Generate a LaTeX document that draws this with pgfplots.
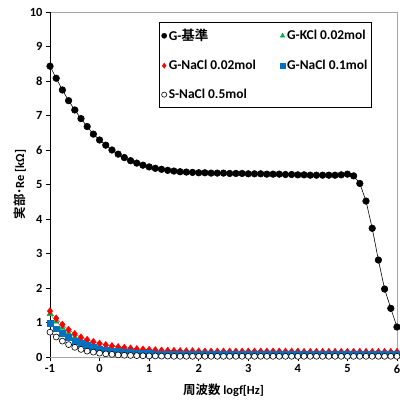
\documentclass[border=0pt]{standalone}
\usepackage{pgfplots}
\usepackage{pgfplotstable}
\pgfplotsset{compat=1.18}
\usepackage{fontspec}
\setmainfont{Carlito}
\newfontfamily\jp{Noto Sans CJK JP}[BoldFont={Noto Sans CJK JP Bold}]
\definecolor{xlred}{RGB}{255,0,0}
\definecolor{xlblue}{RGB}{0,112,192}
\definecolor{xlgreen}{RGB}{0,176,80}
\pgfplotstableread{
x black green red blue white
-1.000 8.43 1.25 1.33 0.99 0.72
-0.875 8.08 1.03 1.12 0.82 0.58
-0.750 7.74 0.85 0.94 0.68 0.46
-0.625 7.43 0.70 0.79 0.56 0.36
-0.500 7.16 0.58 0.67 0.47 0.28
-0.375 6.91 0.49 0.57 0.39 0.22
-0.250 6.68 0.42 0.50 0.33 0.17
-0.125 6.46 0.36 0.44 0.28 0.14
0.000 6.29 0.31 0.39 0.24 0.11
0.125 6.14 0.27 0.35 0.21 0.09
0.250 6.00 0.24 0.32 0.18 0.075
0.375 5.88 0.21 0.29 0.16 0.06
0.500 5.78 0.19 0.27 0.145 0.05
0.625 5.69 0.18 0.25 0.13 0.045
0.750 5.62 0.16 0.23 0.12 0.04
0.875 5.56 0.15 0.22 0.11 0.035
1.000 5.51 0.14 0.21 0.10 0.03
1.125 5.47 0.135 0.20 0.095 0.03
1.250 5.44 0.13 0.19 0.09 0.025
1.375 5.41 0.125 0.185 0.085 0.025
1.500 5.39 0.12 0.18 0.08 0.02
1.625 5.37 0.12 0.175 0.08 0.02
1.750 5.36 0.115 0.17 0.075 0.02
1.875 5.35 0.115 0.17 0.075 0.02
2.000 5.34 0.11 0.165 0.07 0.02
2.125 5.34 0.11 0.16 0.07 0.02
2.250 5.33 0.11 0.16 0.07 0.02
2.375 5.33 0.11 0.16 0.07 0.02
2.500 5.33 0.11 0.16 0.07 0.02
2.625 5.32 0.11 0.16 0.07 0.02
2.750 5.32 0.11 0.16 0.07 0.02
2.875 5.32 0.11 0.16 0.07 0.02
3.000 5.31 0.11 0.16 0.07 0.02
3.125 5.31 0.11 0.16 0.07 0.02
3.250 5.31 0.11 0.16 0.07 0.02
3.375 5.30 0.11 0.16 0.07 0.02
3.500 5.30 0.11 0.16 0.07 0.02
3.625 5.30 0.11 0.16 0.07 0.02
3.750 5.29 0.11 0.16 0.07 0.02
3.875 5.29 0.11 0.16 0.07 0.02
4.000 5.28 0.11 0.16 0.07 0.02
4.125 5.28 0.11 0.15 0.07 0.02
4.250 5.27 0.11 0.15 0.07 0.02
4.375 5.27 0.11 0.15 0.07 0.02
4.500 5.27 0.11 0.15 0.07 0.02
4.625 5.27 0.11 0.15 0.07 0.02
4.750 5.27 0.11 0.15 0.07 0.02
4.875 5.28 0.11 0.15 0.07 0.02
5.000 5.30 0.11 0.15 0.07 0.02
5.125 5.25 0.11 0.15 0.07 0.02
5.250 5.03 0.11 0.15 0.07 0.02
5.375 4.52 0.11 0.15 0.07 0.02
5.500 3.73 0.11 0.15 0.07 0.02
5.625 2.81 0.11 0.15 0.07 0.02
5.750 1.97 0.11 0.15 0.07 0.02
5.875 1.41 0.11 0.15 0.07 0.02
6.000 0.87 0.11 0.15 0.07 0.02
}\datatable
\begin{document}
\begin{tikzpicture}
\begin{axis}[
  scale only axis,
  width=347bp, height=345bp,
  xmin=-1, xmax=6, ymin=0, ymax=10,
  xtick={-1,0,...,6}, ytick={0,1,...,10},
  xticklabels={-1,0,1,2,3,4,5,6},
  yticklabels={0,1,2,3,4,5,6,7,8,9,10},
  tick pos=left, tick align=outside,
  major tick length=4bp,
  tick style={black, line width=0.6pt},
  axis line style={draw=gray!70, line width=0.8pt},
  ticklabel style={font=\bfseries\fontsize{12.5}{14}\selectfont},
  xlabel={{\jp\bfseries 周波数} \bfseries logf[Hz]},
  ylabel={{\jp\bfseries 実部･}\bfseries Re [kΩ]},
  xlabel style={font=\fontsize{12.5}{14}\selectfont, at={(axis description cs:0.5,-0.096)}, anchor=center},
  ylabel style={font=\fontsize{12.5}{14}\selectfont, at={(axis description cs:-0.087,0.5)}, anchor=center},
  legend columns=2,
  legend style={at={(rel axis cs:0.315,0.971)}, anchor=north west,
    draw=black, line width=0.6pt, font=\bfseries\fontsize{13.5}{15}\selectfont,
    inner xsep=2bp, inner ysep=5bp,
    /tikz/every even column/.append style={column sep=22bp},
    row sep=14bp},
  legend cell align=left,
  legend image code/.code={\draw[#1, line width=0.4pt, mark size=2.6pt] plot coordinates {(0.05cm,0cm)};},
]
\addplot[black, line width=0.6pt, mark=*, mark size=3.3pt, mark options={fill=black}] table[x=x,y=black] {\datatable};
\addlegendentry{G-{\jp\bfseries 基準}}
\addplot[xlgreen, line width=0.4pt, mark=triangle*, mark size=3.4pt, mark options={fill=xlgreen, draw=xlgreen}] table[x=x,y=green] {\datatable};
\addlegendentry{G-KCl 0.02mol}
\addplot[xlred, line width=0.4pt, mark=diamond*, mark size=3.6pt, mark options={fill=xlred, draw=xlred}] table[x=x,y=red] {\datatable};
\addlegendentry{G-NaCl 0.02mol}
\addplot[xlblue, line width=0.4pt, mark=square*, mark size=3pt, mark options={fill=xlblue, draw=xlblue}] table[x=x,y=blue] {\datatable};
\addlegendentry{G-NaCl 0.1mol}
\addplot[black, line width=0.4pt, mark=*, mark size=3pt, mark options={fill=white, draw=black, line width=0.6pt}] table[x=x,y=white] {\datatable};
\addlegendentry{S-NaCl 0.5mol}
\draw[black, line width=0.8pt] (rel axis cs:0,1) -- (rel axis cs:0,0) -- (rel axis cs:1,0);
\coordinate (ll) at (rel axis cs:0,0);
\coordinate (ur) at (rel axis cs:1,1);
\end{axis}
\pgfresetboundingbox
\path[use as bounding box] ([shift={(-50bp,-44bp)}]ll) rectangle ([shift={(3bp,12bp)}]ur);
\end{tikzpicture}
\end{document}
